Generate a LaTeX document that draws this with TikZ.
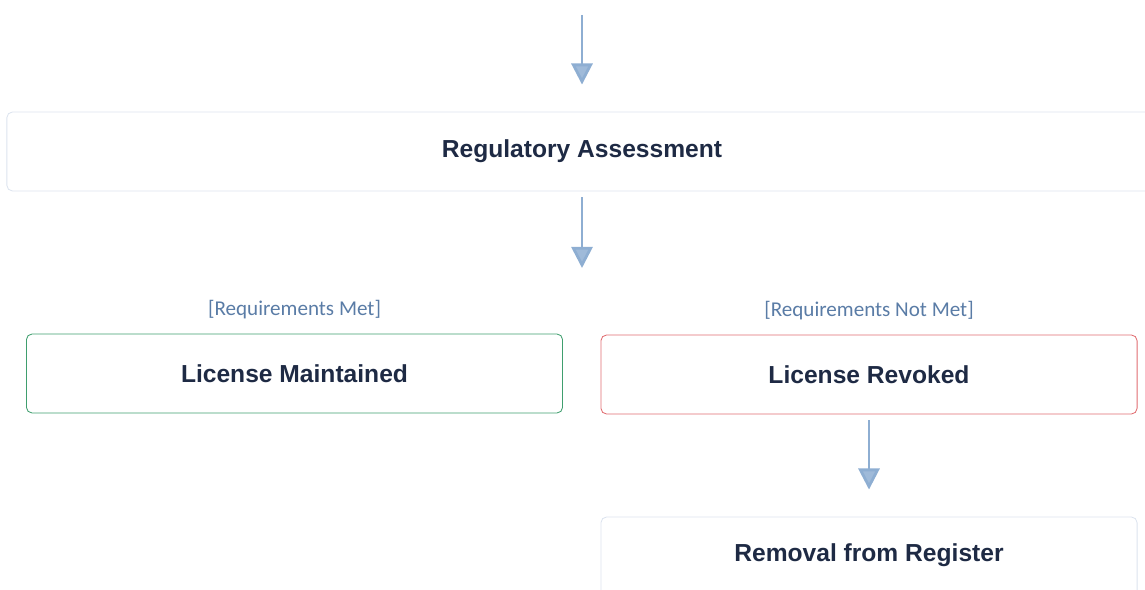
\documentclass[tikz,border=0pt]{standalone}
\usepackage{fontspec}
\setmainfont{Liberation Sans}
\newfontfamily\guardfont{Carlito}
\usetikzlibrary{arrows.meta,positioning}

\definecolor{flowblue}{HTML}{8EAED2}
\definecolor{boxtext}{HTML}{1E2A44}
\definecolor{guardtext}{HTML}{5A7CA6}
\definecolor{plainedge}{HTML}{DCE3EE}
\definecolor{okedge}{HTML}{3F9E6E}
\definecolor{badedge}{HTML}{E06C70}

\begin{document}
\begin{tikzpicture}[
  x=0.025cm, y=-0.025cm,
  block/.style = {
    draw=plainedge,
    shape=rectangle,
    rounded corners=4pt,
    line width=0.6pt,
    minimum width=13.4cm,
    minimum height=1.975cm,
    text=boxtext,
    font=\fontsize{17.5}{20}\selectfont\bfseries,
    align=center
  },
  guard/.style = {
    text=guardtext,
    font=\guardfont\fontsize{15}{18}\selectfont
  },
  flow/.style = {
    draw=flowblue,
    line width=2pt,
    -{Triangle[width=15pt,length=15pt,fill=flowblue!85]}
  },
]
  \clip (0,0) rectangle (1145,590);

  \coordinate (start) at (582,15);
  \node (assess)[
    block,
    minimum width=28.75cm
  ] at (582,151.5) {Regulatory Assessment};
  \coordinate (split) at (582,268);

  \node (kept)[
    block,
    draw=okedge
  ] at (294.5,373.5) {License Maintained};
  \node (revoked)[
    block,
    draw=badedge
  ] at (869,374.5) {License Revoked};
  \node (removed)[
    block,
    minimum height=3cm
  ] at (869,577) {};
  \node at (869,555) [text=boxtext, font=\fontsize{17.5}{20}\selectfont\bfseries] {Removal from Register};

  \node[guard, above=7pt of kept] {[Requirements Met]};
  \node[guard, above=7pt of revoked] {[Requirements Not Met]};

  \draw[flow, shorten >=0.675cm] (start) -- (assess);
  \draw[flow, shorten <=0.15cm] (assess) -- (split);
  \draw[flow, shorten <=0.15cm, shorten >=0.675cm] (revoked) -- (removed);
\end{tikzpicture}
\end{document}
